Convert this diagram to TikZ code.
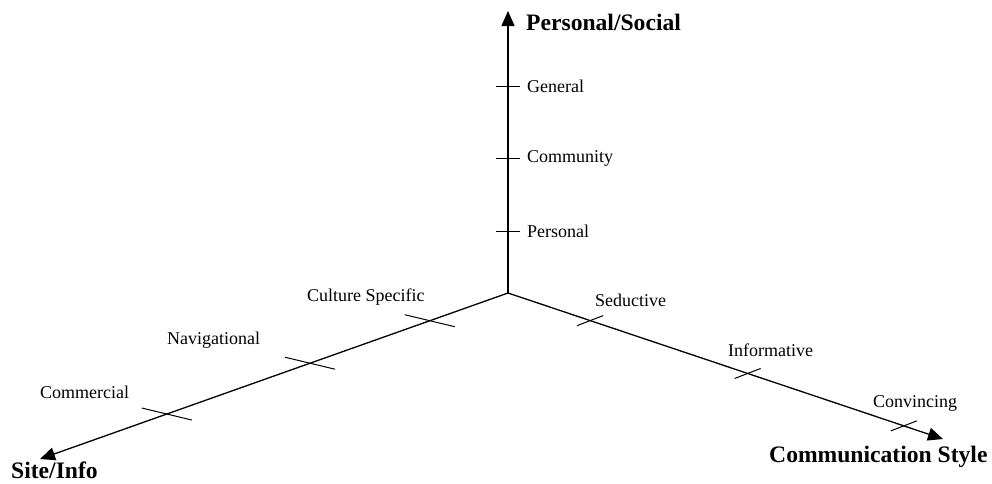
\documentclass[tikz,border=0pt]{standalone}
\usepackage{fontspec}
\setmainfont{Liberation Serif}
\usetikzlibrary{arrows.meta,calc}
\begin{document}
\begin{tikzpicture}[x=1pt,y=-1pt,
  axis/.style={line width=1.3pt,-{Triangle[length=15pt,width=13pt]}},
  tickmark/.style={line width=1pt},
  axistitle/.style={inner sep=0pt,anchor=west,font=\fontsize{23.6}{26}\selectfont\bfseries},
  ticklabel/.style={inner sep=0pt,anchor=west,font=\fontsize{18}{20}\selectfont}]
\useasboundingbox (0,0) rectangle (992,483);

% origin and axis ends
\coordinate (O) at (508,293);
\coordinate (T) at (508,11);
\coordinate (L) at (40,459);
\coordinate (R) at (943,439);

\draw[axis] (O) -- (T);
\draw[axis] (O) -- (L);
\draw[axis] (O) -- (R);

% tick positions
\coordinate (g) at (508,86);
\coordinate (c) at (508,158);
\coordinate (p) at (508,231);
\coordinate (cs) at ($(O)!0.167!(L)$);
\coordinate (nv) at ($(O)!0.423!(L)$);
\coordinate (cm) at ($(O)!0.729!(L)$);
\coordinate (sd) at ($(O)!0.189!(R)$);
\coordinate (inf) at ($(O)!0.551!(R)$);
\coordinate (cv) at ($(O)!0.910!(R)$);

\foreach \k in {g,c,p}
  \draw[tickmark] (\k) ++(-12,0) -- ++(24,0);
\foreach \k in {cs,nv,cm}
  \draw[tickmark] (\k) ++(-25,-6) -- ++(50,12);
\foreach \k in {sd,inf,cv}
  \draw[tickmark] (\k) ++(-13,5) -- ++(26,-10);

% axis titles
\node[axistitle] (ps) at (526,22) {Personal/Social};
\node[axistitle] (si) at (11,470) {Site/Info};
\node[axistitle] (cst) at (769,457) {Communication Style};

% tick labels
\node[ticklabel] (lg) at (527,86) {General};
\node[ticklabel] (lc) at (527,158) {Community};
\node[ticklabel] (lp) at (527,231) {Personal};
\node[ticklabel] (lcs) at (307,297) {Culture Specific};
\node[ticklabel] (lnv) at (167,340) {Navigational};
\node[ticklabel] (lcm) at (40,392) {Commercial};
\node[ticklabel] (lsd) at (595,300) {Seductive};
\node[ticklabel] (linf) at (728,350) {Informative};
\node[ticklabel] (lcv) at (873,403) {Convincing};
\end{tikzpicture}
\end{document}
